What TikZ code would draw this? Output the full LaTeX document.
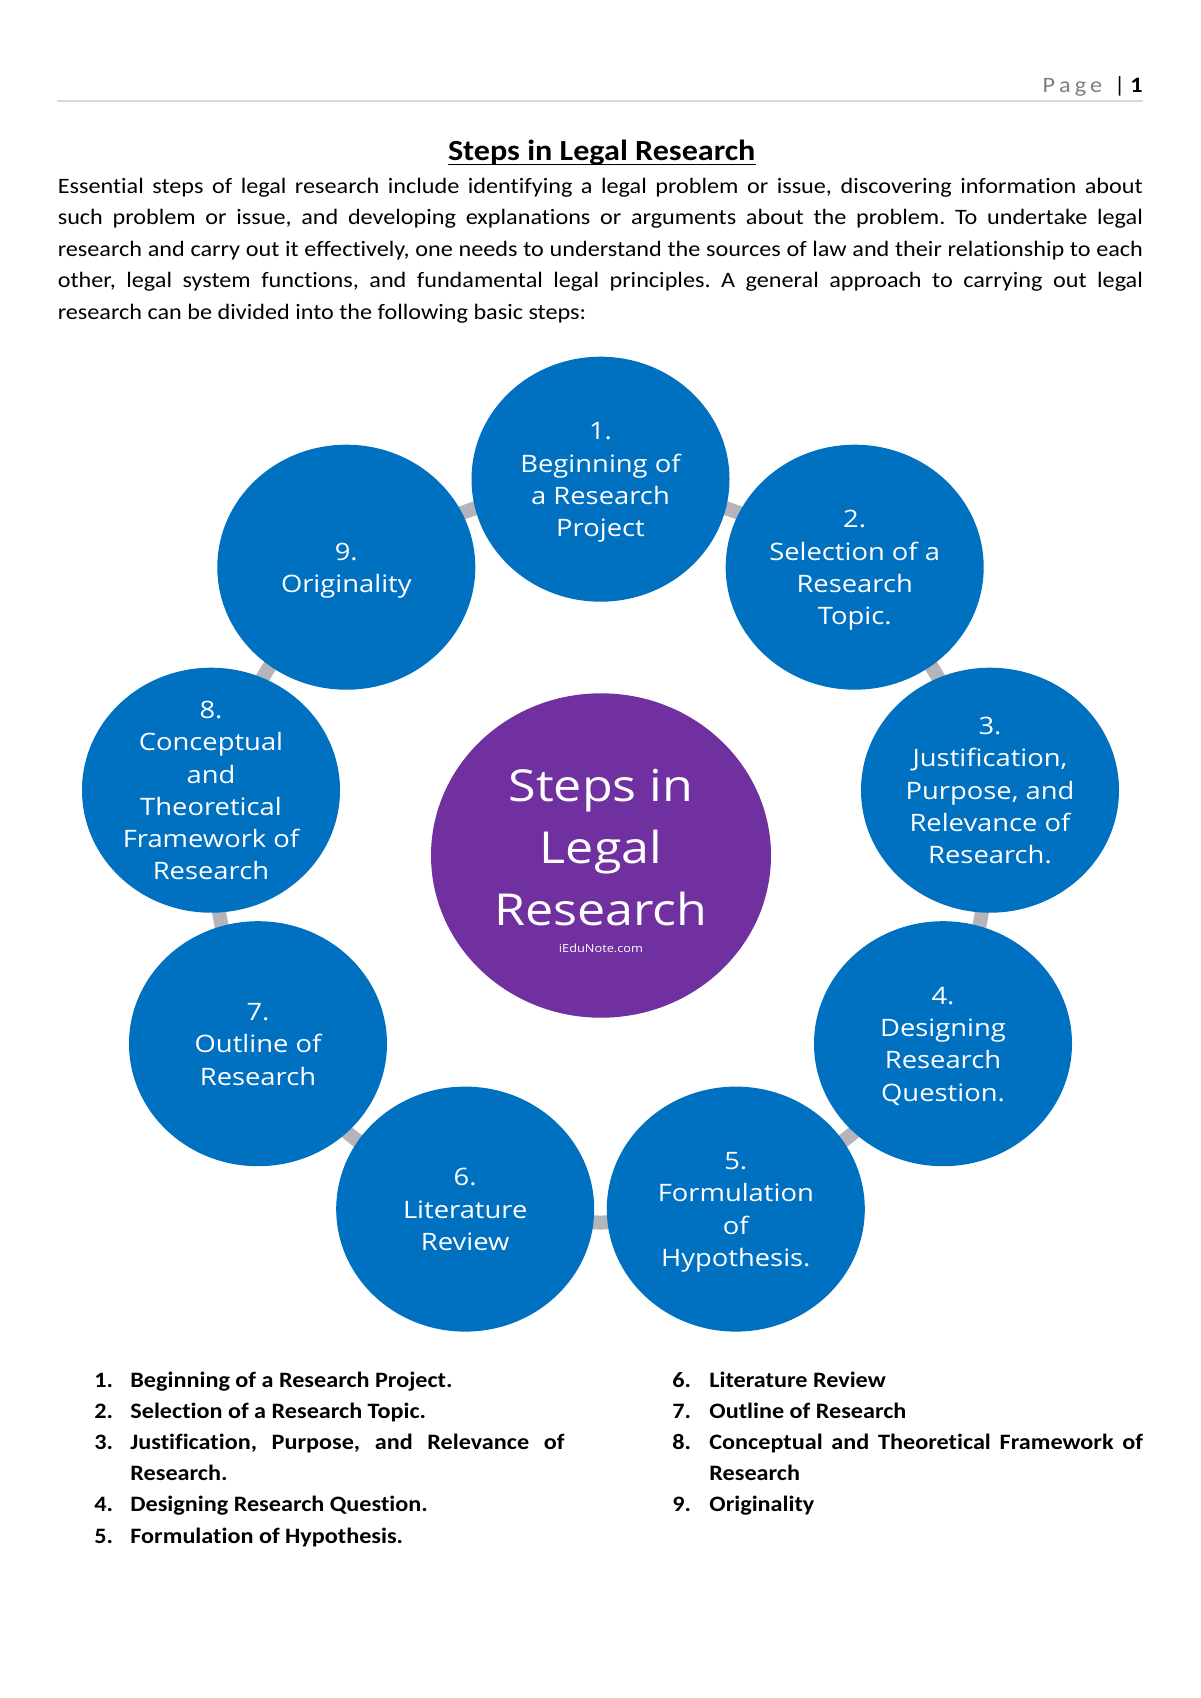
\documentclass[tikz,border=0pt]{standalone}
\usepackage{fontspec}
\setmainfont{Carlito}[FakeStretch=1.1,Ligatures=NoCommon]
\newfontfamily\seg[FakeStretch=1.14]{Open Sans}
\usetikzlibrary{shapes.geometric}
\definecolor{stepblue}{RGB}{0,112,192}
\definecolor{hubpurple}{RGB}{112,48,160}
\definecolor{ringgray}{RGB}{180,180,186}
\definecolor{pagegray}{RGB}{127,127,127}
\definecolor{rulegray}{RGB}{217,217,217}
\newcommand\ls{\rule[-0.25em]{0pt}{1.25em}}
\tikzset{
  stepnode/.style={ellipse, fill=stepblue, minimum width=129pt, minimum height=122.5pt,
    inner sep=-14pt, text=white, align=center, font=\seg\fontsize{12}{16.15}\selectfont},
  hubnode/.style={ellipse, fill=hubpurple, minimum width=170pt, minimum height=162.2pt, inner sep=0pt},
  hubtext/.style={text=white, align=center, inner sep=0pt, font=\seg\fontsize{22}{30.85}\selectfont},
  ringline/.style={draw=ringgray, line width=7pt},
  bodyline/.style={anchor=base west, inner sep=0pt, font=\fontsize{11}{13}\selectfont},
  listline/.style={anchor=base west, inner sep=0pt, font=\fontsize{11}{13}\selectfont\bfseries},
}
\begin{document}
\frenchspacing
\begin{tikzpicture}[x=0.5pt,y=-0.5pt]
\useasboundingbox[fill=white] (0,0) rectangle (1200,1698);
% header
\node[anchor=base east, inner sep=0pt, font=\fontsize{11}{13}\selectfont] (pagehdr) at (1143,92.3)
  {{\color{pagegray}P\kern2pt a\kern2pt g\kern2pt e}\hspace{6pt}|\hspace{2.5pt}\textbf{1}};
\coordinate (ruleL) at (57.4,101);
\coordinate (ruleR) at (1143,101);
\draw[rulegray, line width=1pt] (ruleL) -- (ruleR);
% title
\node[anchor=base, inner sep=0pt, font=\fontsize{14.6}{18}\selectfont\bfseries] (title) at (601.7,160) {Steps in Legal Research};
\draw[line width=0.9pt] ([yshift=-2.2pt]title.base west) -- ([yshift=-2.2pt]title.base east);
% body text
\node[bodyline] (p1) at (57.4,193.5) {\makebox[542.6pt][s]{Essential steps of legal research include identifying a legal problem or issue, discovering information about}};
\node[bodyline] (p2) at (57.4,224.9) {\makebox[542.6pt][s]{such problem or issue, and developing explanations or arguments about the problem. To undertake legal}};
\node[bodyline] (p3) at (57.4,256.3) {\makebox[542.6pt][s]{research and carry out it effectively, one needs to understand the sources of law and their relationship to each}};
\node[bodyline] (p4) at (57.4,287.7) {\makebox[542.6pt][s]{other, legal system functions, and fundamental legal principles. A general approach to carrying out legal}};
\node[bodyline] (p5) at (57.4,319.1) {research can be divided into the following basic steps:};
% ring
\coordinate (ringc) at (600.5,855.5);
\draw[ringline] (ringc) ellipse [x radius=193pt, y radius=183.5pt];
% steps
\node[stepnode] (s1) at (600.5,479.2) {\ls 1.\\\ls Beginning of\\\ls a Research\\\ls Project};
\node[stepnode] (s2) at (854.7,567.2) {\ls 2.\\\ls Selection of a\\\ls Research\\\ls Topic.};
\node[stepnode] (s3) at (990.0,790.2) {\ls 3.\\\ls Justification,\\\ls Purpose, and\\\ls Relevance of\\\ls Research.};
\node[stepnode] (s4) at (943.0,1043.7) {\ls 4.\\\ls Designing\\\ls Research\\\ls Question.};
\node[stepnode] (s5) at (735.8,1209.1) {\ls 5.\\\ls Formulation\\\ls of\\\ls Hypothesis.};
\node[stepnode] (s6) at (465.2,1209.1) {\ls 6.\\\ls Literature\\\ls Review};
\node[stepnode] (s7) at (258.0,1043.7) {\ls 7.\\\ls Outline of\\\ls Research};
\node[stepnode] (s8) at (211.0,790.2) {\ls 8.\\\ls Conceptual\\\ls and\\\ls Theoretical\\\ls Framework of\\\ls Research};
\node[stepnode] (s9) at (346.3,567.2) {\ls 9.\\\ls Originality};
% hub
\node[hubnode] (hub) at (601,855.5) {};
\node[hubtext] (hubtitle) at (601,846.9) {\ls Steps in\\\ls Legal\\\ls Research};
\node[anchor=base, inner sep=0pt, text=white, font=\seg\fontsize{5.6}{7}\selectfont] (site) at (601,952.7) {iEduNote.com};
% list column 1
\node[listline] (n1) at (94,1387) {1.};
\node[listline] (t1) at (130,1387) {Beginning of a Research Project.};
\node[listline] (n2) at (94,1418.2) {2.};
\node[listline] (t2) at (130,1418.2) {Selection of a Research Topic.};
\node[listline] (n3) at (94,1449.4) {3.};
\node[listline] (t3) at (130,1449.4) {\makebox[217pt][s]{Justification, Purpose, and Relevance of}};
\node[listline] (t3b) at (130,1480.6) {Research.};
\node[listline] (n4) at (94,1511.8) {4.};
\node[listline] (t4) at (130,1511.8) {Designing Research Question.};
\node[listline] (n5) at (94,1543) {5.};
\node[listline] (t5) at (130,1543) {Formulation of Hypothesis.};
% list column 2
\node[listline] (n6) at (672,1387) {6.};
\node[listline] (t6) at (709,1387) {Literature Review};
\node[listline] (n7) at (672,1418.2) {7.};
\node[listline] (t7) at (709,1418.2) {Outline of Research};
\node[listline] (n8) at (672,1449.4) {8.};
\node[listline] (t8) at (709,1449.4) {\makebox[216.8pt][s]{Conceptual and Theoretical Framework of}};
\node[listline] (t8b) at (709,1480.6) {Research};
\node[listline] (n9) at (672,1511.8) {9.};
\node[listline] (t9) at (709,1511.8) {Originality};
\end{tikzpicture}
\end{document}
